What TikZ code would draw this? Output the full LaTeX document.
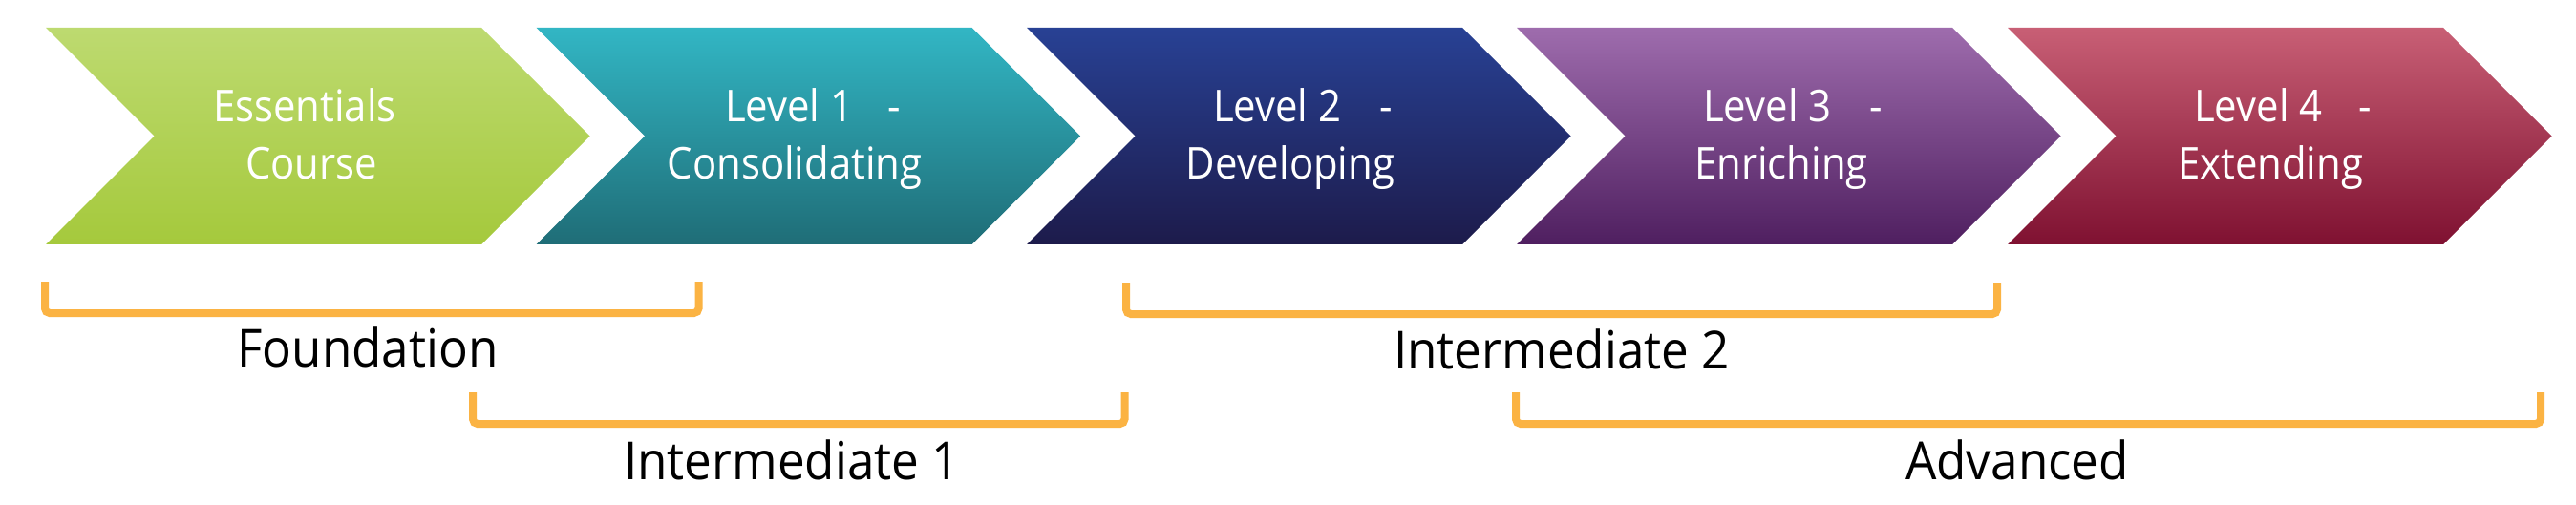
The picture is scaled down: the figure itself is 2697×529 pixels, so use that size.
\documentclass[tikz,border=0pt]{standalone}
\usepackage{fontspec}
\setmainfont{Open Sans}
\newfontfamily\chevfont[FakeStretch=0.91]{Open Sans}
\newfontfamily\labfont[FakeStretch=0.93]{Open Sans}
\definecolor{gT}{HTML}{BDDA70}\definecolor{gM}{HTML}{B2D452}\definecolor{gB}{HTML}{A5C93C}
\definecolor{tT}{HTML}{32B6C4}\definecolor{tM}{HTML}{2C97A5}\definecolor{tB}{HTML}{1F6D77}
\definecolor{nT}{HTML}{284194}\definecolor{nM}{HTML}{262E6E}\definecolor{nB}{HTML}{1D1B4B}
\definecolor{pT}{HTML}{9E6CAD}\definecolor{pM}{HTML}{73378A}\definecolor{pB}{HTML}{4F1F60}
\definecolor{rT}{HTML}{C85F75}\definecolor{rM}{HTML}{B02247}\definecolor{rB}{HTML}{7F1131}
\definecolor{brk}{HTML}{FBB343}
\begin{document}
\begin{tikzpicture}[x=1pt,y=-1pt,
  chevtxt/.style={text=white,font=\chevfont\fontsize{46}{55}\selectfont,inner sep=0pt,anchor=base},
  labtxt/.style={text=black,font=\labfont\fontsize{55}{66}\selectfont,inner sep=0pt,anchor=base},
  bracket/.style={draw=brk,line width=8pt,rounded corners=5pt,line cap=butt}]
\useasboundingbox[fill=white] (0,0) rectangle (2697,529);
% chevrons
\foreach \L/\c in {48/g,561.6/t,1075/n,1588/p,2102/r}{
  \path[top color=\c T,middle color=\c M,bottom color=\c B]
    (\L,29) -- ({\L+456},29) -- ({\L+569.5},142.5) -- ({\L+456},256) -- (\L,256) -- ({\L+113.5},142.5) -- cycle;
}
% chevron texts
\node[chevtxt] (c1a) at (319,128) {Essentials};
\node[chevtxt] (c1b) at (326,188) {Course};
\node[chevtxt] (c2a) at (851,128) {Level 1\hspace{36pt}-};
\node[chevtxt] (c2b) at (832,188) {Consolidating};
\node[chevtxt] (c3a) at (1364,128) {Level 2\hspace{40pt}-};
\node[chevtxt] (c3b) at (1351,188) {Developing};
\node[chevtxt] (c4a) at (1877,128) {Level 3\hspace{40pt}-};
\node[chevtxt] (c4b) at (1865,188) {Enriching};
\node[chevtxt] (c5a) at (2390,128) {Level 4\hspace{38pt}-};
\node[chevtxt] (c5b) at (2377,188) {Extending};
% brackets
\draw[bracket] (47,295) -- (47,328) -- (731.5,328) -- (731.5,295);
\draw[bracket] (495,411) -- (495,444) -- (1177.5,444) -- (1177.5,411);
\draw[bracket] (1179,296) -- (1179,329) -- (2091,329) -- (2091,296);
\draw[bracket] (1587,411) -- (1587,444) -- (2660,444) -- (2660,411);
% labels
\node[labtxt] (foundation) at (385,384) {Foundation};
\node[labtxt] (inter1) at (829,502) {Intermediate 1};
\node[labtxt] (inter2) at (1635,386) {Intermediate 2};
\node[labtxt] (advanced) at (2112,502) {Advanced};
\end{tikzpicture}
\end{document}
